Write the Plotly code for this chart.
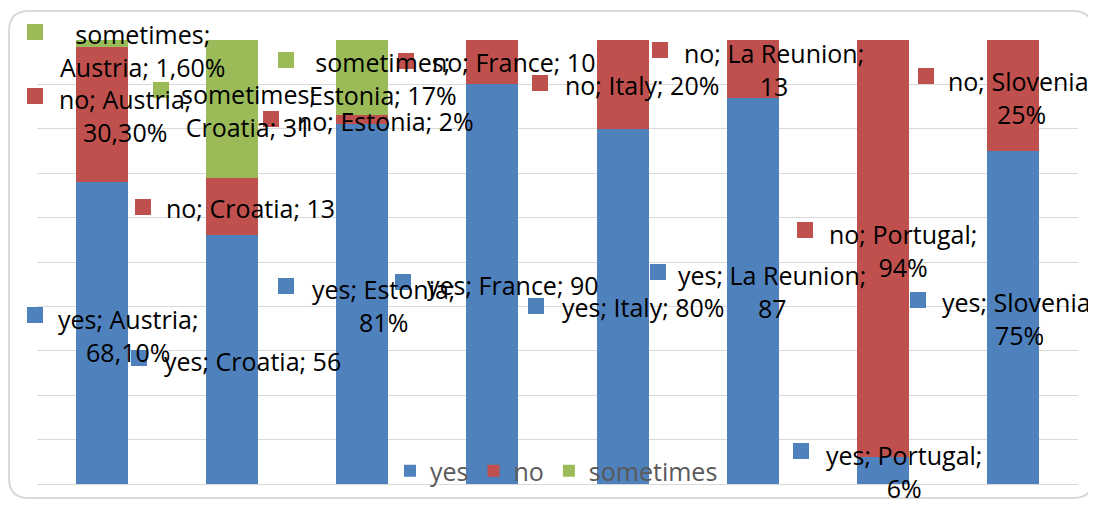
import plotly.graph_objects as go

# ---------------- data ----------------
categories = ["Austria", "Croatia", "Estonia", "France", "Italy", "La Reunion", "Portugal", "Slovenia"]
series_names = ["yes", "no", "sometimes"]
yes_values = [68.1, 56, 81, 90, 80, 87, 6, 75]
no_values = [30.3, 13, 2, 10, 20, 13, 94, 25]
sometimes_values = [1.6, 31, 17, 0, 0, 0, 0, 0]
# value text exactly as printed in the data labels
yes_text = ["68,10%", "56", "81%", "90", "80%", "87", "6%", "75%"]
no_text = ["30,30%", "13", "2%", "10", "20%", "13", "94%", "25%"]
sometimes_text = ["1,60%", "31", "17%"]

# ---------------- style ----------------
colors = {"yes": "#4F81BD", "no": "#C0504D", "sometimes": "#9BBB59"}
OFF = 8                       # default page (body) margin of the html page
W, H = 1096 - OFF, 508 - OFF  # figure size so that it fills the window
# plot area in window pixels
X0, X1, Y0, Y1 = 37, 1078, 40, 484
FONT = "Open Sans"
FS = 25

def px_x(px):
    return (px - X0) / (X1 - X0)

def px_y(py):
    return (Y1 - py) / (Y1 - Y0)

# label layout (window px): (block centre x, block centre y, key-square left x, key-square centre y, wrap)
yes_pos = [(128, 335, 27, 315, "cat"), (252, 361, 131, 358, "none"), (383, 305, 278, 286, "cat"),
           (513, 285, 395, 282, "none"), (643, 307, 528, 306, "none"), (772, 291, 650, 272, "cat"),
           (904, 471, 793, 451, "cat"), (1019, 318, 910, 300, "cat")]
no_pos = [(125, 115, 27, 96, "cat"), (250, 208, 135, 207, "none"), (385, 121, 263, 119, "none"),
          (513, 62, 398, 61, "none"), (642, 85, 532, 83, "none"), (774, 70, 652, 50, "cat"),
          (903, 250, 797, 230, "cat"), (1021, 97, 918, 76, "cat")]
sometimes_pos = [(142, 51, 27, 32, "series"), (248, 110, 153, 90, "series"), (383, 78, 278, 60, "series")]

fig = go.Figure()
for name, vals in zip(series_names, [yes_values, no_values, sometimes_values]):
    fig.add_trace(go.Bar(x=categories, y=vals, name=name, marker_color=colors[name],
                         marker_line_width=0, width=0.4))

annotations = []
shapes = []

def add_label(series, cat, val, pos):
    cx, cy, sx, sy, wrap = pos
    if wrap == "cat":
        text = f"{series}; {cat};<br>{val}"
    elif wrap == "series":
        text = f"{series};<br>{cat}; {val}"
    else:
        text = f"{series}; {cat}; {val}"
    annotations.append(dict(x=px_x(cx), y=px_y(cy), xref="paper", yref="paper", text=text,
                            showarrow=False, xanchor="center", yanchor="middle", align="center",
                            font=dict(family=FONT, size=FS, color="#000000")))
    shapes.append(dict(type="rect", xref="paper", yref="paper",
                       x0=px_x(sx), x1=px_x(sx + 16), y0=px_y(sy + 8), y1=px_y(sy - 8),
                       fillcolor=colors[series], line_width=0, layer="above"))

for i, cat in enumerate(categories):
    add_label("yes", cat, yes_text[i], yes_pos[i])
    add_label("no", cat, no_text[i], no_pos[i])
for i, val in enumerate(sometimes_text):
    add_label("sometimes", categories[i], val, sometimes_pos[i])

# rounded chart border (window px)
bx0, by0, bx1, by1, r = 9, 11, 1093, 498, 20
def P(x, y):
    return f"{px_x(x)},{px_y(y)}"
path = (f"M {P(bx0 + r, by0)} L {P(bx1 - r, by0)} Q {P(bx1, by0)} {P(bx1, by0 + r)} "
        f"L {P(bx1, by1 - r)} Q {P(bx1, by1)} {P(bx1 - r, by1)} L {P(bx0 + r, by1)} "
        f"Q {P(bx0, by1)} {P(bx0, by1 - r)} L {P(bx0, by0 + r)} Q {P(bx0, by0)} {P(bx0 + r, by0)} Z")
shapes.append(dict(type="path", xref="paper", yref="paper", path=path,
                   line=dict(color="#D9D9D9", width=2), layer="below"))

fig.update_layout(
    width=W, height=H,
    margin=dict(l=X0 - OFF, r=1096 - X1, t=Y0 - OFF, b=508 - Y1, pad=0),
    paper_bgcolor="white", plot_bgcolor="white",
    barmode="stack", bargap=0.6,
    font=dict(family=FONT, size=FS, color="#000000"),
    xaxis=dict(showticklabels=False, showgrid=False, zeroline=False, showline=False,
               range=[-0.5, len(categories) - 0.5]),
    yaxis=dict(range=[0, 100], dtick=10, showticklabels=False, showgrid=True,
               gridcolor="#D9D9D9", gridwidth=1, zeroline=True, zerolinecolor="#D9D9D9",
               zerolinewidth=1, showline=False),
    showlegend=True,
    legend=dict(orientation="h", x=px_x(390), y=px_y(471), xanchor="left", yanchor="middle",
                bgcolor="rgba(0,0,0,0)", traceorder="normal",
                font=dict(family=FONT, size=FS, color="#595959")),
    annotations=annotations,
    shapes=shapes,
)

fig.write_html("out.html")
